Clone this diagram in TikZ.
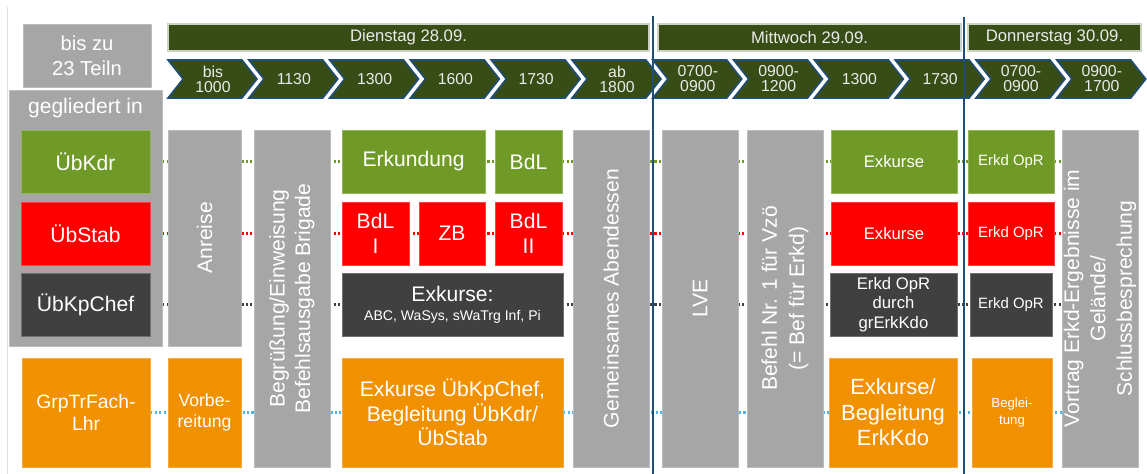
\documentclass[tikz,border=0pt]{standalone}
\usepackage{fontspec}
\setmainfont{Liberation Sans}
\usepackage{xcolor}
\usepackage{tikz}
\usetikzlibrary{backgrounds}

\definecolor{grayBox}{RGB}{166,166,166}
\definecolor{kdrGreen}{RGB}{112,154,40}
\definecolor{stabRed}{RGB}{255,0,0}
\definecolor{chefGray}{RGB}{64,64,64}
\definecolor{lhrOrange}{RGB}{241,145,0}
\definecolor{dayGreen}{RGB}{56,77,22}
\definecolor{lineBlue}{RGB}{31,78,121}
\definecolor{dotBlue}{RGB}{79,182,232}

\newcommand{\fz}[2]{\fontsize{#1}{#2}\selectfont}

\begin{document}
\begin{tikzpicture}[
  B/.style={draw=#1!75!white, line width=0.4pt, fill=#1, text=white,
    align=center, inner sep=1pt, font=\fz{12}{14}},
  V/.style={B=grayBox, rotate=90},
  day/.style={draw=dayGreen!25!white, line width=0.6pt, fill=dayGreen,
    text=white!92!black, minimum height=0.54cm, inner sep=0pt, font=\fz{9.5}{11}},
  chev/.style={draw=lineBlue, line width=0.9pt, fill=dayGreen},
  chevtxt/.style={text=white!92!black, align=center, inner sep=0pt, font=\fz{9}{8.5}},
  row/.style={dash pattern=on 1.2pt off 1.3pt, line width=1.5pt, #1},
]
\useasboundingbox (0,0) rectangle (22.94,-9.48);
\draw[gray!25, line width=0.5pt] (0.14,-0.14) -- (0.14,-9.48);

%--- LEFT COLUMN ---
\node[B=grayBox, minimum width=2.56cm, minimum height=1.26cm, font=\fz{11.5}{14}]
  (teiln) at (1.74,-1.11) {bis zu\\23 Teiln};
\node[B=grayBox, minimum width=3.06cm, minimum height=5.12cm]
  (gliedert) at (1.71,-4.36) {};
\node[text=white, font=\fz{12}{14}] (gltxt) at (1.71,-2.17) {gegliedert in};
\node[B=kdrGreen, minimum width=2.58cm, minimum height=1.26cm]
  (ukdr) at (1.71,-3.23) {ÜbKdr};
\node[B=stabRed, minimum width=2.58cm, minimum height=1.26cm]
  (ustab) at (1.71,-4.67) {ÜbStab};
\node[B=chefGray, minimum width=2.58cm, minimum height=1.26cm]
  (ukpchef) at (1.71,-6.09) {ÜbKpChef};
\node[B=lhrOrange, minimum width=2.56cm, minimum height=2.18cm, font=\fz{11}{13}]
  (lhr) at (1.72,-8.25) {GrpTrFach-\\Lhr};

%--- DAY HEADERS ---
\node[day, minimum width=9.62cm] (tue) at (8.17,-0.75) {Dienstag 28.09.};
\node[day, minimum width=6.06cm] (wed) at (16.19,-0.75) {Mittwoch 29.09.};
\node[day, minimum width=3.46cm] (thu) at (21.09,-0.75) {Donnerstag 30.09.};

%--- TIME CHEVRONS ---
\foreach \t [count=\i from 0] in {{bis\\1000},1130,1300,1600,1730,{ab\\1800},
    {0700-\\0900},{0900-\\1200},1300,1730,{0700-\\0900},{0900-\\1700}} {
  \pgfmathsetmacro\x{3.36+1.616*\i}
  \draw[chev] (\x,-1.20) -- ++(1.48,0) -- ++(0.30,-0.38) -- ++(-0.30,-0.38)
    -- ++(-1.48,0) -- ++(0.30,0.38) -- cycle;
  \node[chevtxt] (c\i) at (\x+0.90,-1.58) {\t};
}

%--- DIENSTAG ---
\node[B=grayBox, rotate=90, minimum width=4.32cm, minimum height=1.46cm]
  (anreise) at (4.09,-4.76) {Anreise};
\node[B=lhrOrange, minimum width=1.46cm, minimum height=2.18cm, font=\fz{10}{12}]
  (vorb) at (4.09,-8.25) {Vorbe-\\reitung};
\node[V, minimum width=6.74cm, minimum height=1.52cm, font=\fz{12}{14.5}]
  (begr) at (5.84,-5.97) {Begrüßung/Einweisung\\Befehlsausgabe Brigade};
\node[B=kdrGreen, minimum width=2.86cm, minimum height=1.26cm]
  (erk) at (8.27,-3.23) {Erkundung};
\node[B=kdrGreen, minimum width=1.34cm, minimum height=1.26cm]
  (bdl) at (10.57,-3.23) {BdL};
\node[B=stabRed, minimum width=1.34cm, minimum height=1.26cm]
  (bdl1) at (7.51,-4.67) {BdL\\I};
\node[B=stabRed, minimum width=1.32cm, minimum height=1.26cm]
  (zb) at (9.04,-4.67) {ZB};
\node[B=stabRed, minimum width=1.34cm, minimum height=1.26cm]
  (bdl2) at (10.57,-4.67) {BdL\\II};
\node[B=chefGray, minimum width=4.42cm, minimum height=1.26cm]
  (exk) at (9.05,-6.09) {Exkurse:\\[-3pt]{\fz{8}{10}ABC, WaSys, sWaTrg Inf, Pi}};
\node[B=lhrOrange, minimum width=4.42cm, minimum height=2.18cm]
  (exkchef) at (9.05,-8.25) {Exkurse ÜbKpChef,\\Begleitung ÜbKdr/\\ÜbStab};
\node[V, minimum width=6.74cm, minimum height=1.52cm]
  (abend) at (12.22,-5.97) {Gemeinsames Abendessen};

%--- MITTWOCH ---
\node[V, minimum width=6.74cm, minimum height=1.52cm]
  (lve) at (14.00,-5.97) {LVE};
\node[V, minimum width=6.74cm, minimum height=1.52cm, font=\fz{12}{15.5}]
  (bef) at (15.70,-5.97) {Befehl Nr. 1 für Vzö\\(= Bef für Erkd)};
\node[B=kdrGreen, minimum width=2.52cm, minimum height=1.26cm, font=\fz{9.5}{11}]
  (exkg) at (17.88,-3.23) {Exkurse};
\node[B=stabRed, minimum width=2.52cm, minimum height=1.26cm, font=\fz{9.5}{11}]
  (exkr) at (17.88,-4.67) {Exkurse};
\node[B=chefGray, minimum width=2.54cm, minimum height=1.26cm, font=\fz{9.5}{11}]
  (oprgr) at (17.87,-6.09) {Erkd OpR\\durch\\grErkKdo};
\node[B=lhrOrange, minimum width=2.56cm, minimum height=2.18cm, font=\fz{12.5}{14.5}]
  (erkkdo) at (17.86,-8.25) {Exkurse/\\Begleitung\\ErkKdo};

%--- DONNERSTAG ---
\node[B=kdrGreen, minimum width=1.72cm, minimum height=1.26cm, font=\fz{8.5}{10}]
  (oprg) at (20.22,-3.23) {Erkd OpR};
\node[B=stabRed, minimum width=1.72cm, minimum height=1.26cm, font=\fz{8.5}{10}]
  (oprr) at (20.22,-4.67) {Erkd OpR};
\node[B=chefGray, minimum width=1.64cm, minimum height=1.26cm, font=\fz{8.5}{10}]
  (oprd) at (20.22,-6.09) {Erkd OpR};
\node[B=lhrOrange, minimum width=1.60cm, minimum height=2.18cm, font=\fz{7.5}{10}]
  (begl) at (20.24,-8.25) {Beglei-\\tung};
\node[V, minimum width=6.74cm, minimum height=1.52cm, font=\fz{12}{15}]
  (vortrag) at (22.00,-5.97) {Vortrag Erkd-Ergebnisse im\\Gelände/\\Schlussbesprechung};

%--- ROW LINES ---
\begin{pgfonlayer}{background}
\draw[row=kdrGreen]  (gliedert.east |- ukdr)    -- (vortrag |- ukdr);
\draw[row=stabRed]   (gliedert.east |- ustab)   -- (vortrag |- ustab);
\draw[row=chefGray]  (gliedert.east |- ukpchef) -- (vortrag |- ukpchef);
\draw[row=dotBlue]   (lhr.east)                 -- (vortrag |- lhr);
\end{pgfonlayer}

%--- DAY SEPARATORS ---
\coordinate (s1top) at (13.06,-0.32);
\coordinate (s1bot) at (13.06,-9.48);
\coordinate (s2top) at (19.28,-0.34);
\coordinate (s2bot) at (19.28,-9.48);
\draw[lineBlue, line width=1.2pt] (s1top) -- (s1bot);
\draw[lineBlue, line width=1.2pt] (s2top) -- (s2bot);
\end{tikzpicture}
\end{document}
